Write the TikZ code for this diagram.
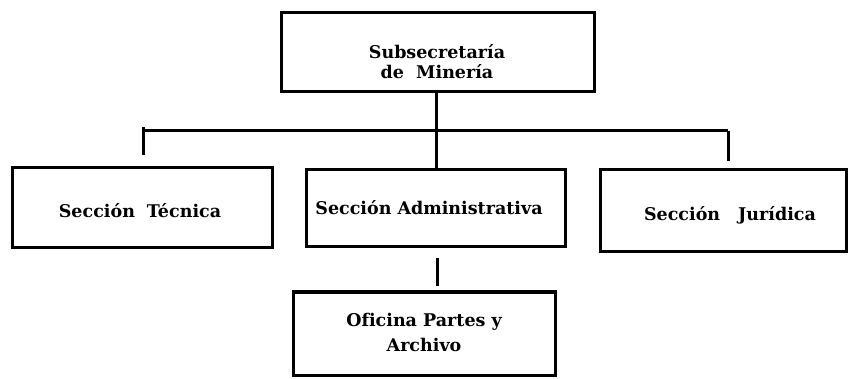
\documentclass[tikz,border=0pt]{standalone}
\usepackage{fontspec}
\setmainfont[Ligatures=NoCommon]{DejaVu Serif}
\begin{document}
\begin{tikzpicture}[x=1pt,y=-1pt,
  box/.style={draw,line width=3pt,rectangle,inner sep=0pt},
  lbl/.style={font=\bfseries\fontsize{17.5}{20}\selectfont,align=center,inner sep=0pt},
  conn/.style={line width=3pt}]
\useasboundingbox (0,0) rectangle (851,379);
% boxes
\node[box,minimum width=313pt,minimum height=79pt] (sub) at (437.5,52.5) {};
\node[box,minimum width=260pt,minimum height=80pt] (tec) at (142,208) {};
\node[box,minimum width=259pt,minimum height=77pt] (adm) at (435.5,208.5) {};
\node[box,minimum width=246pt,minimum height=82pt] (jur) at (723,211) {};
\node[box,minimum width=262pt,minimum height=83pt] (ofi) at (424,333.5) {};
% labels
\node[lbl] (tsub) at (437,62) {Subsecretaría\\de\ \ Minería};
\node[lbl] (ttec) at (140,211) {Sección\hspace{12pt}Técnica};
\node[lbl] (tadm) at (429,208) {Sección\hspace{6pt}Administrativa};
\node[lbl] (tjur) at (730,215) {Sección\hspace{18pt}Jurídica};
\node[lbl,font=\bfseries\fontsize{17.5}{25}\selectfont] (tofi) at (424,332) {Oficina\ Partes\ y\\Archivo};
% connectors
\coordinate (bus) at (436,131);
\coordinate (hl) at (143,131);
\coordinate (hr) at (728,131);
\coordinate (hltop) at (143,127);
\draw[conn] (sub.south -| bus) -- (bus);
\draw[conn] (hl) -- (hr);
\draw[conn,shorten >=11pt] (hltop) -- (hl |- tec.north);
\draw[conn,shorten >=7pt] (hr) -- (hr |- jur.north);
\draw[conn] (bus) -- (bus |- adm.north);
\draw[conn,shorten <=10pt,shorten >=4pt] (adm.south -| sub.south) -- (ofi.north -| sub.south);
\end{tikzpicture}
\end{document}
